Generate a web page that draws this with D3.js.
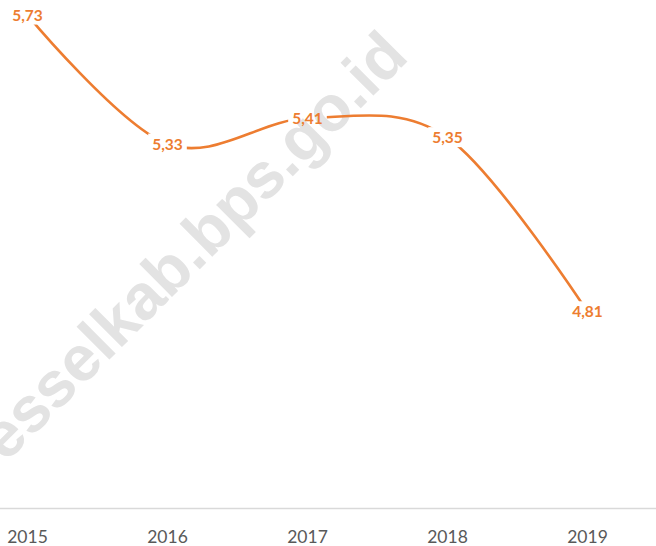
<!DOCTYPE html>
<html lang="id">
<head>
<meta charset="utf-8" />
<title>Line chart 2015-2019</title>
<script src="https://cdn.jsdelivr.net/npm/d3@7"></script>
<style>
  body { margin: 0; background: #fff; }
  svg { display: block; }
  .year { font-family: Lato, "Open Sans", sans-serif; font-size: 17.5px; fill: #595959; }
  .val { font-family: Lato, "Open Sans", sans-serif; font-size: 15.5px; font-weight: bold; fill: #ed7d31; }
  .wm { font-family: "Liberation Sans", Arial, sans-serif; font-weight: bold; font-size: 64px; fill: #e3e3e3; }
</style>
</head>
<body>
<svg width="656" height="546"></svg>
<script>
// data
var years = ["2015", "2016", "2017", "2018", "2019"];
var values = [5.73, 5.33, 5.41, 5.35, 4.81];
var yDomain = [4.2, 5.8];

var svg = d3.select("svg"),
    width = 656,
    axisY = 508.5;

var data = years.map(function(y, i) { return {year: y, value: values[i]}; });

var x = d3.scalePoint()
    .domain(years)
    .range([27.5, 587.5]);

var y = d3.scaleLinear()
    .domain(yDomain)
    .range([axisY, -7.5]);

var fmt = d3.formatLocale({decimal: ",", thousands: ".", grouping: [3], currency: ["Rp", ""]}).format(".2f");

// watermark
svg.append("g")
    .attr("transform", "translate(203,266) rotate(-45)")
  .append("text")
    .attr("class", "wm")
    .attr("x", -4.364 * 64)
    .attr("y", 0)
    .text("esselkab.bps.go.id");

// category axis line
svg.append("line")
    .attr("x1", 0).attr("x2", width)
    .attr("y1", axisY).attr("y2", axisY)
    .attr("stroke", "#d9d9d9")
    .attr("stroke-width", 1.3);

svg.selectAll(".year")
    .data(years)
  .enter().append("text")
    .attr("class", "year")
    .attr("text-anchor", "middle")
    .attr("x", function(d) { return x(d); })
    .attr("y", 543)
    .text(function(d) { return d; });

var mask = svg.append("defs").append("mask").attr("id", "lblmask");
mask.append("rect").attr("width", width).attr("height", 546).attr("fill", "#fff");

var line = d3.line()
    .x(function(d) { return x(d.year); })
    .y(function(d) { return y(d.value); })
    .curve(d3.curveCardinal.tension(0));

svg.append("path")
    .datum(data)
    .attr("d", line)
    .attr("fill", "none")
    .attr("stroke", "#ed7d31")
    .attr("stroke-width", 2.6)
    .attr("mask", "url(#lblmask)");

var lbl = svg.selectAll(".val")
    .data(data)
  .enter().append("text")
    .attr("class", "val")
    .attr("text-anchor", "middle")
    .attr("x", function(d) { return x(d.year); })
    .attr("y", function(d) { return y(d.value) + 5.5; })
    .text(function(d) { return fmt(d.value); });

// cut the line where a label sits
lbl.each(function() {
  var b = this.getBBox();
  mask.append("rect")
      .attr("x", b.x - 4).attr("y", b.y - 1)
      .attr("width", b.width + 8).attr("height", b.height + 2)
      .attr("fill", "#000");
});
</script>
</body>
</html>
